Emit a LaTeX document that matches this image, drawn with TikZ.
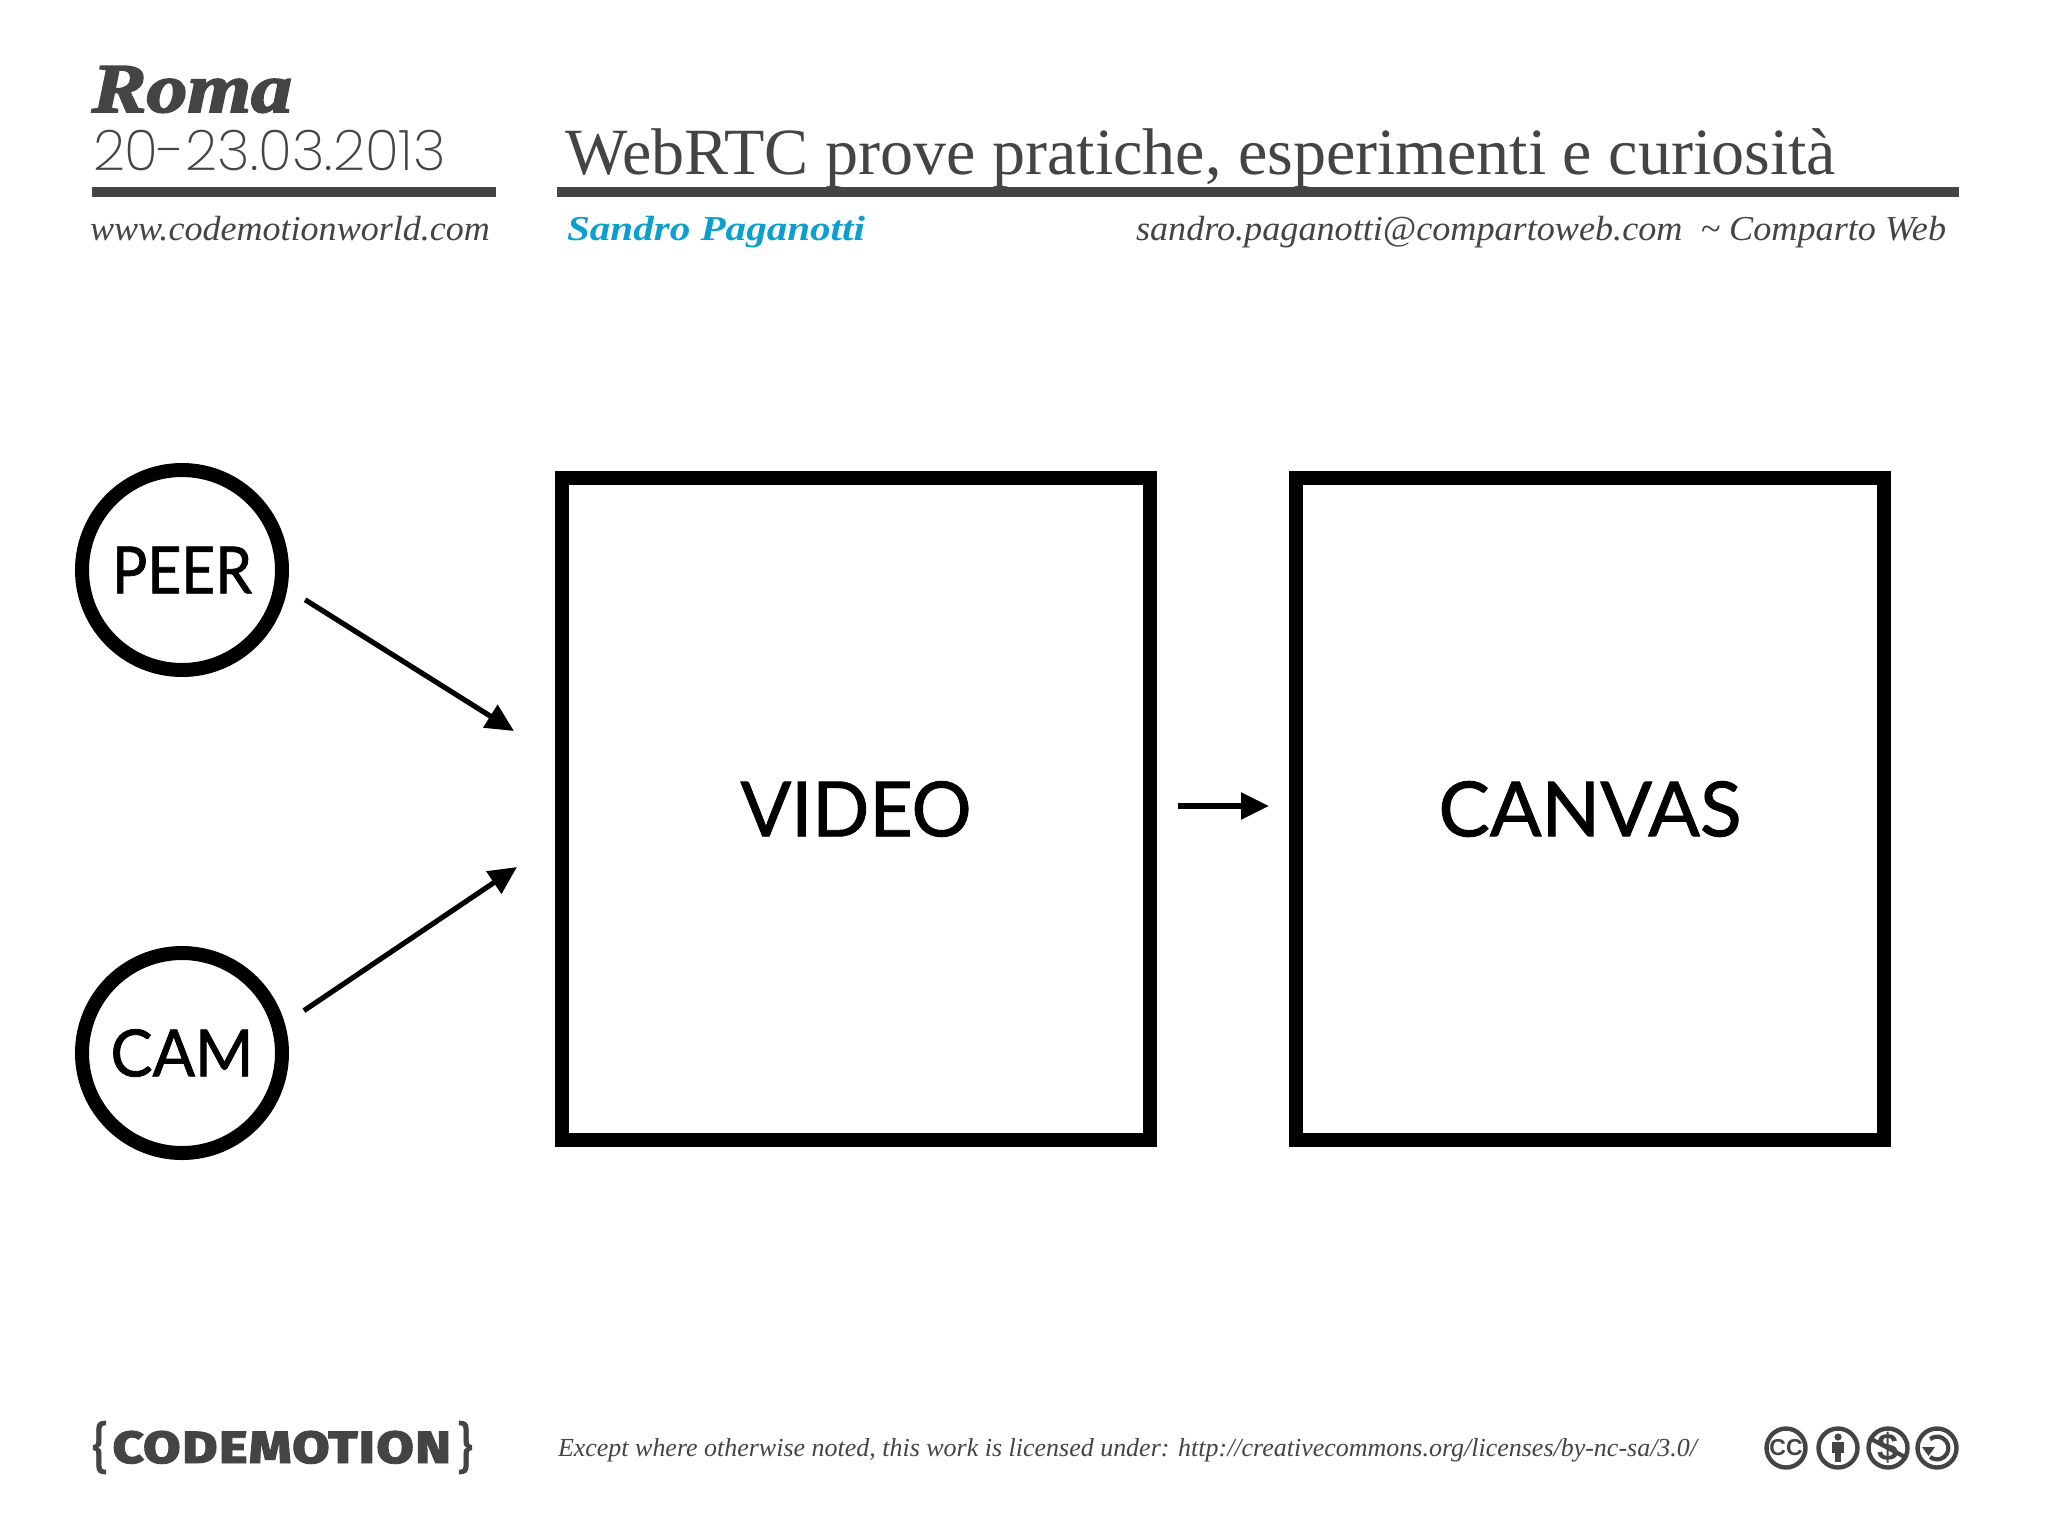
\documentclass[tikz,border=0pt]{standalone}
\usepackage{graphicx}
\usepackage{fontspec}
\usetikzlibrary{arrows.meta}
\setmainfont{Liberation Serif}
\newfontfamily\gillish[FakeBold=1.2]{Lato}
\newfontfamily\lightsans{Poppins ExtraLight}
\newfontfamily\fatserif[FakeBold=2.5]{Liberation Serif}
\newfontfamily\logofont[Letters=SmallCaps,FakeBold=1.5]{Fira Sans}
\newfontfamily\heros{Liberation Sans}
\definecolor{ink}{HTML}{444444}
\definecolor{sky}{HTML}{0A9FCF}
\newcommand{\fitw}[2]{\resizebox{\dimexpr #1pt/2\relax}{\height}{#2}}
\newcommand{\fitwh}[3]{\resizebox*{\dimexpr #1pt/2\relax}{\dimexpr #2pt/2\relax}{#3}}
\tikzset{
  x=0.5pt,y=-0.5pt,
  txt/.style={anchor=base west,inner sep=0pt,outer sep=0pt,text=ink},
  rulebar/.style={fill=ink,draw=none},
  circ/.style={circle,draw=black,line width=7pt,minimum size=100pt,inner sep=0pt,outer sep=3.5pt,font=\gillish\fontsize{32.5}{32.5}\selectfont,text=black},
  bigbox/.style={rectangle,draw=black,line width=7pt,minimum width=294pt,minimum height=331pt,inner sep=0pt,outer sep=3.5pt,font=\gillish\fontsize{38}{38}\selectfont,text=black},
  link/.style={draw=black,line width=2.6pt,-{Triangle[length=14pt,width=13pt]}},
  cc/.style={circle,draw=ink,line width=2.2pt,minimum size=19.5pt,inner sep=0pt,text=ink},
  brace/.style={inner sep=0pt,text=ink},
}
\begin{document}
\begin{tikzpicture}
\useasboundingbox (0,0) rectangle (2048,1536);
\fill[white] (0,0) rectangle (2048,1536);
% header
\node[txt] (roma) at (92,112) {\fitw{200}{\fatserif\bfseries\itshape\fontsize{35}{35}\selectfont Roma}};
\node[txt] (date) at (93,170) {\fitw{353}{\lightsans\fontsize{28}{28}\selectfont 20-23.03.2013}};
\node[txt] (title) at (565,174) {\fitw{1271}{\fontsize{33}{33}\selectfont WebRTC prove pratiche, esperimenti e curiosità}};
\fill[rulebar] (92,187) rectangle (496,197);
\fill[rulebar] (557,187) rectangle (1959,197);
\node[txt] (web) at (90,240) {\fitw{400}{\itshape\fontsize{17.5}{17.5}\selectfont www.codemotionworld.com}};
\node[txt,text=sky] (author) at (567,240) {\fitw{298}{\bfseries\itshape\fontsize{17.5}{17.5}\selectfont Sandro Paganotti}};
\node[txt] (mail) at (1136,240) {\fitw{810}{\itshape\fontsize{17.5}{17.5}\selectfont sandro.paganotti@compartoweb.com\ \ \textasciitilde\ Comparto Web}};
% diagram
\node[circ] (peer) at (182,570) {\fitw{140}{PEER}};
\node[circ] (cam) at (182,1053) {\fitw{143}{CAM}};
\node[bigbox] (video) at (856,809) {\fitw{231}{VIDEO}};
\node[bigbox] (canvas) at (1590,809) {\fitw{303}{CANVAS}};
\coordinate (peertip) at (514,731);
\coordinate (camtip) at (517,867);
\draw[link,shorten <=10.5pt] (peer.-10) -- (peertip);
\draw[link,shorten <=11.5pt] (cam.16) -- (camtip);
\draw[link,shorten <=10.5pt,shorten >=10pt] ([yshift=1.5pt]video.east) -- ([yshift=1.5pt]canvas.west);
% footer
\node[brace] (lbrace) at (100,1447.5) {\fitwh{16}{53}{\logofont\fontsize{30}{30}\selectfont\{}};
\node[inner sep=0pt,text=ink,anchor=base] (logo) at (282,1463) {\fitwh{340}{33}{\logofont\bfseries\fontsize{30}{30}\selectfont codemotion}};
\node[brace] (rbrace) at (465,1447.5) {\fitwh{16}{53}{\logofont\fontsize{30}{30}\selectfont\}}};
\node[txt] (licence) at (558,1456) {\fitw{1139}{\itshape\fontsize{13}{13}\selectfont Except where otherwise noted, this work is licensed under: http://creativecommons.org/licenses/by-nc-sa/3.0/}};
\node[cc,font=\heros\bfseries\fontsize{11.5}{11.5}\selectfont] (ccby) at (1786,1448) {CC};
\node[cc] (person) at (1838,1448) {};
\fill[ink] (1838,1437) circle (3.6);
\fill[ink] (1832,1441.5) rectangle (1844,1453);
\fill[ink] (1835,1453) rectangle (1841,1462);
\node[cc,font=\heros\bfseries\fontsize{19}{19}\selectfont] (nc) at (1888,1448) {\$};
\draw[ink,line width=2.1pt] (nc.152) -- (nc.-28);
\node[cc] (sa) at (1937,1448) {};
\draw[ink,line width=2.1pt] (1930,1439) arc[start angle=-128,end angle=128,radius=11.4];
\fill[ink] (1922,1447) -- (1935,1447) -- (1928.5,1456) -- cycle;
\end{tikzpicture}
\end{document}
